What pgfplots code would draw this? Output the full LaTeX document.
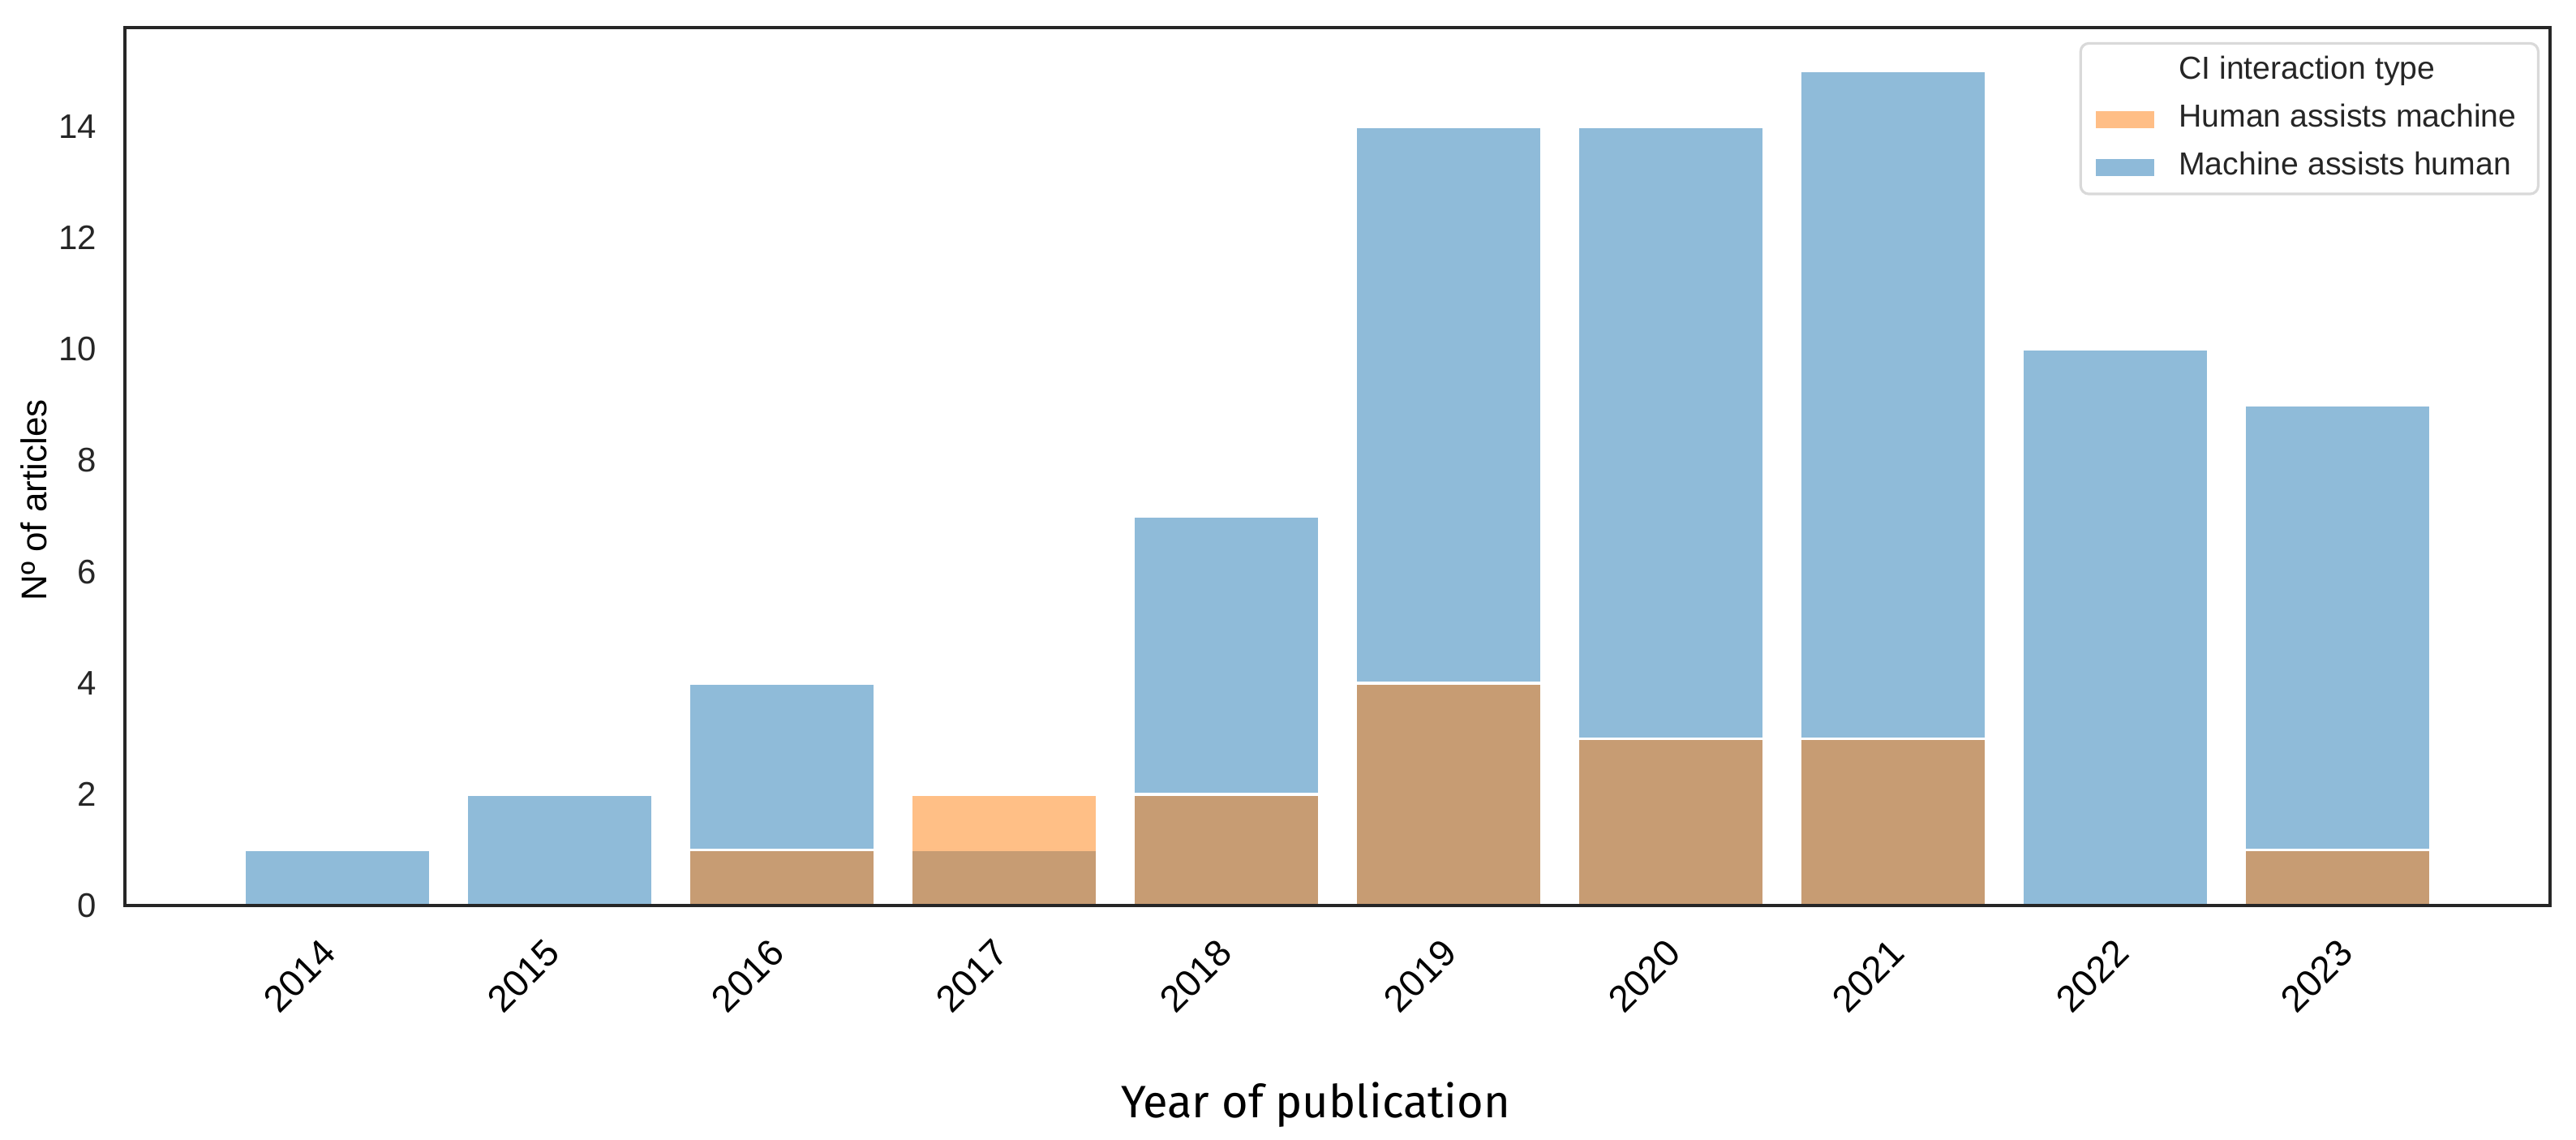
\documentclass[border=0pt]{standalone}
\usepackage{pgfplots}
\usepackage{pgfplotstable}
\pgfplotsset{compat=1.18}
\usepackage{fontspec}
\setmainfont{Liberation Sans}
\newfontfamily\fira{Fira Sans}
\definecolor{tabblue}{HTML}{1F77B4}
\definecolor{taborange}{HTML}{FF7F0E}
\definecolor{spine}{HTML}{262626}

\pgfplotstableread{
year count
2014 1
2015 2
2016 4
2017 1
2018 7
2019 14
2020 14
2021 15
2022 10
2023 9
}\machinedata

\pgfplotstableread{
year count
2016 1
2017 2
2018 2
2019 4
2020 3
2021 3
2023 1
}\humandata

\begin{document}
\begin{tikzpicture}
\useasboundingbox (-38.5pt,-72pt) rectangle (755.5pt,279pt);
\begin{axis}[
  at={(0pt,0pt)}, anchor=south west,
  scale only axis, width=747.5pt, height=270.5pt,
  xmin=2013.044, xmax=2023.956, ymin=0, ymax=15.78,
  axis on top,
  axis line style={spine, line width=1pt},
  major tick length=0pt,
  xtick={2014,2015.0084,2016.0168,2017.0252,2018.0336,2019.042,2020.0504,2021.0588,2022.0672,2023.0756},
  xticklabels={2014,2015,2016,2017,2018,2019,2020,2021,2022,2023},
  ytick={0,2,4,6,8,10,12,14},
  /pgf/number format/assume math mode=true,
  yticklabel style={font=\fontsize{10.5}{12}\selectfont, text=spine, anchor=east, inner sep=0pt, xshift=-8.5pt},
  xticklabel style={font=\fontsize{11.5}{13}\selectfont, text=black, xshift=-5.5pt, yshift=-9.5pt, rotate=45, anchor=north east, inner sep=0pt},
  xlabel={Year of publication},
  every axis x label/.style={at={(axis description cs:0.491,0)}, anchor=base, yshift=-65.25pt, font=\fira\fontsize{14}{16}\selectfont},
  ylabel={Nº of articles},
  every axis y label/.style={at={(axis description cs:0,0.334)}, xshift=-24pt, rotate=90, anchor=base west, font=\fontsize{11}{13}\selectfont},
  legend cell align=left,
  legend image code/.code={\path[#1, draw=none, sharp corners] (0pt,-2.9pt) rectangle (18pt,2.4pt);},
  legend style={at={(axis description cs:0.99565,0.9835)}, anchor=north east,
    draw=black!15, line width=0.8pt, rounded corners=2.5pt, fill=white,
    font=\fontsize{9.8}{11}\selectfont, text=spine,
    inner xsep=4.75pt, inner ysep=1.8pt, row sep=1.6pt, column sep=5.5pt,
    nodes={text height=7.2pt, text depth=2pt, inner sep=2pt}},
]
\addlegendimage{empty legend}
\addlegendentry{CI interaction type}
\addlegendimage{fill=taborange, fill opacity=0.5}
\addlegendentry{Human assists machine}
\addlegendimage{fill=tabblue, fill opacity=0.5}
\addlegendentry{Machine assists human}

\addplot[ybar, bar width=0.84, bar shift=0pt, fill=tabblue, fill opacity=0.5, draw=white, line width=0.9pt, forget plot]
  table[x=year, y=count] {\machinedata};
\addplot[ybar, bar width=0.84, bar shift=0pt, fill=taborange, fill opacity=0.5, draw=white, line width=0.9pt, forget plot]
  table[x=year, y=count] {\humandata};
\end{axis}
\end{tikzpicture}
\end{document}
